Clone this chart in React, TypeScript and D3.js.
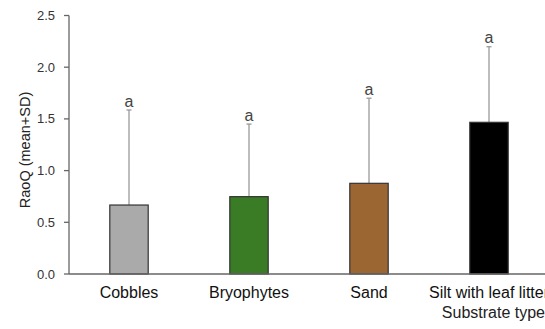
import React from "react";
import * as d3 from "d3";

const categories = ["Cobbles", "Bryophytes", "Sand", "Silt with leaf litter"];
const means = [0.667, 0.748, 0.877, 1.467];
const sds = [0.919, 0.702, 0.823, 0.731];
const letters = ["a", "a", "a", "a"];
const colors = ["#aaaaaa", "#3a7b25", "#9b6632", "#000000"];
const yTicks = [0, 0.5, 1.0, 1.5, 2.0, 2.5];

const W = 545;
const H = 329;
const left = 69;
const top = 15.5;
const bottom = 274;

export default function App() {
  const x = d3.scaleBand<string>().domain(categories).range([left, 549]).paddingInner(0.68).paddingOuter(0.34);
  const y = d3.scaleLinear().domain([0, 2.5]).range([bottom, top]);
  const font = "Arial, 'Liberation Sans', sans-serif";
  return (
    <svg width={W} height={H} style={{ position: "absolute", left: 0, top: 0, background: "#fff" }} fontFamily={font}>
      {categories.map((c, i) => {
        const cx = (x(c) ?? 0) + x.bandwidth() / 2;
        const yTop = y(means[i] + sds[i]);
        return (
          <g key={c}>
            <line x1={cx} x2={cx} y1={y(means[i])} y2={yTop} stroke="#9a9a9a" strokeWidth={1.3} />
            <line x1={cx - 2.5} x2={cx + 2.5} y1={yTop} y2={yTop} stroke="#9a9a9a" strokeWidth={1.3} />
            <rect x={x(c)} y={y(means[i])} width={x.bandwidth()} height={bottom - y(means[i])} fill={colors[i]} stroke="#333" strokeWidth={1.2} />
            <text x={cx} y={yTop - 3.5} textAnchor="middle" fontSize={16} fill="#444">{letters[i]}</text>
            <text x={cx} y={298} textAnchor="middle" fontSize={16} fill="#111">{c}</text>
          </g>
        );
      })}
      <line x1={left} x2={W} y1={bottom} y2={bottom} stroke="#666" strokeWidth={1.3} />
      <line x1={left} x2={left} y1={top} y2={bottom} stroke="#666" strokeWidth={1.3} />
      {yTicks.map((t) => (
        <g key={t}>
          <line x1={left - 5} x2={left} y1={y(t)} y2={y(t)} stroke="#666" strokeWidth={1.3} />
          <text x={55} y={y(t) + 4.5} textAnchor="end" fontSize={13} fill="#333">{t.toFixed(1)}</text>
        </g>
      ))}
      <text transform={`translate(30,150) rotate(-90)`} textAnchor="middle" fontSize={14.5} fill="#222">RaoQ (mean+SD)</text>
      <text x={545} y={318} textAnchor="end" fontSize={16} fill="#222">Substrate type</text>
    </svg>
  );
}
